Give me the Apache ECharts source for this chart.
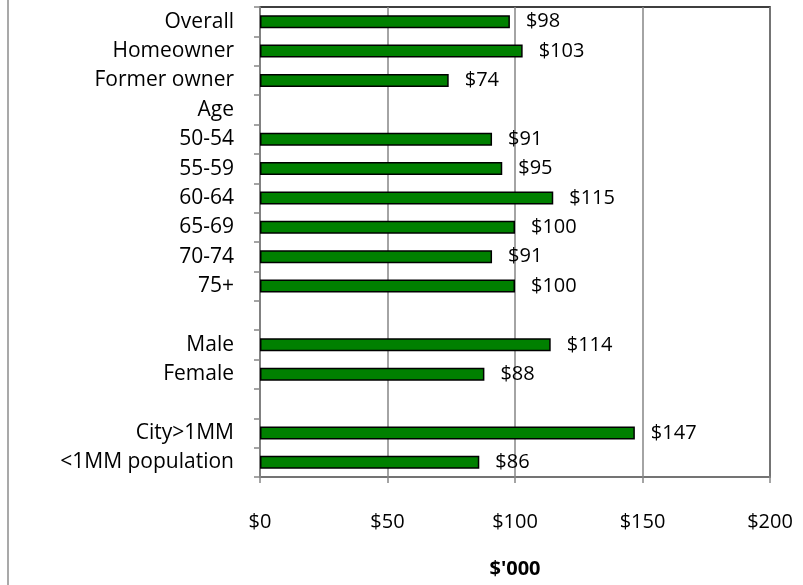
<!DOCTYPE html>
<html>
<head>
<meta charset="utf-8">
<script src="https://cdn.jsdelivr.net/npm/echarts@6/dist/echarts.min.js"></script>
<style>
  html, body { margin: 0; padding: 0; background: #fff; }
  #chart { width: 803px; height: 585px; }
</style>
</head>
<body>
<div id="chart"></div>
<script>
// rows top to bottom, blank strings are spacer rows
var categories = ['Overall', 'Homeowner', 'Former owner', 'Age', '50-54', '55-59', '60-64',
    '65-69', '70-74', '75+', '', 'Male', 'Female', '', 'City>1MM', '<1MM population'];
var values = [98, 103, 74, null, 91, 95, 115, 100, 91, 100, null, 114, 88, null, 147, 86];
var xTicks = [0, 50, 100, 150, 200];
var axisTitle = "$'000";

var font = 'Open Sans';
var chart = echarts.init(document.getElementById('chart'));
var option = {
    animation: false,
    textStyle: { fontFamily: font },
    grid: {
        left: 260, right: 33, top: 7, bottom: 108,
        show: true, borderColor: '#000', borderWidth: 1.5
    },
    graphic: [{
        type: 'line',
        shape: { x1: 8, y1: 0, x2: 8, y2: 585 },
        style: { stroke: '#8c8c8c', lineWidth: 1.5 }
    }],
    xAxis: {
        type: 'value',
        min: xTicks[0], max: xTicks[xTicks.length - 1], interval: 50,
        name: axisTitle,
        nameLocation: 'middle',
        nameGap: 82,
        nameTextStyle: { fontFamily: font, fontSize: 20, fontWeight: 'bold', color: '#000' },
        axisLine: { show: true, lineStyle: { color: '#868686', width: 1.5 } },
        axisTick: { show: true, length: 6, lineStyle: { color: '#868686', width: 1.5 } },
        axisLabel: {
            margin: 35, fontSize: 20, color: '#000',
            formatter: function (v) { return '$' + v; }
        },
        splitLine: { show: true, lineStyle: { color: '#868686', width: 1.5 } }
    },
    yAxis: {
        type: 'category',
        inverse: true,
        data: categories,
        axisLine: { show: true, lineStyle: { color: '#868686', width: 1.5 } },
        axisTick: { show: true, length: 6, lineStyle: { color: '#868686', width: 1.5 } },
        axisLabel: { margin: 26, fontSize: 21, color: '#000', interval: 0 }
    },
    series: [{
        type: 'bar',
        data: values,
        barWidth: 13,
        itemStyle: { color: '#008000', borderColor: '#000', borderWidth: 1.5 },
        label: {
            show: true,
            position: 'right',
            distance: 16,
            fontSize: 20,
            color: '#000',
            formatter: function (p) { return p.value == null ? '' : '$' + p.value; }
        }
    }]
};
chart.setOption(option);
</script>
</body>
</html>
